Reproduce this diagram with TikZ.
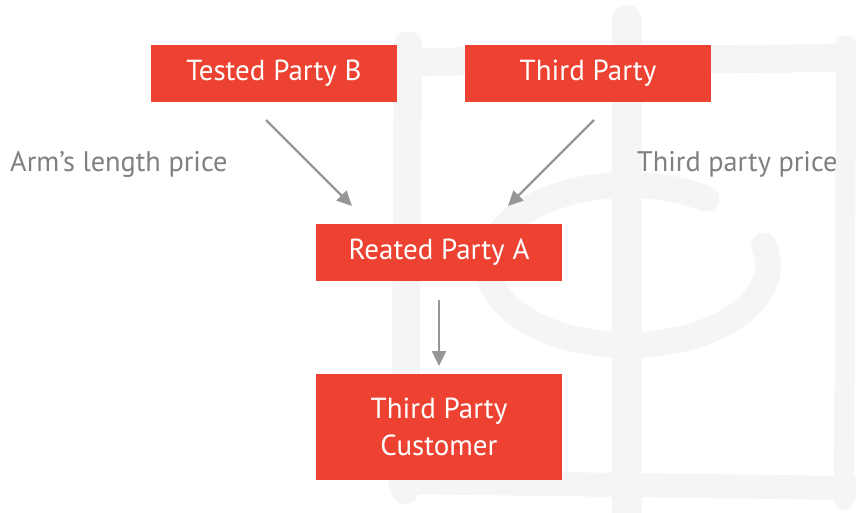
\documentclass[tikz,border=0pt]{standalone}
\usepackage{fontspec}
\setmainfont{PT Sans}
\usetikzlibrary{arrows.meta}
\definecolor{boxred}{RGB}{237,66,49}
\definecolor{arrowgrey}{RGB}{150,150,150}
\definecolor{labelgrey}{RGB}{128,128,128}
\definecolor{wmark}{RGB}{245,245,243}
\begin{document}
\begin{tikzpicture}[x=1pt,y=-1pt,
  redbox/.style={fill=boxred,text=white,inner sep=0pt,minimum width=246pt,font=\fontsize{29}{37}\selectfont,align=center},
  conn/.style={draw=arrowgrey,line width=2.4pt,-{Triangle[length=15pt,width=14pt]}},
  pricelabel/.style={text=labelgrey,font=\fontsize{28.3}{30}\selectfont,inner sep=0pt,anchor=base west},
  brush/.style={draw=wmark,line cap=round}]
\useasboundingbox (0,0) rectangle (856,512);
% watermark
\draw[brush,line width=28pt] (408,45) -- (405,490);
\draw[brush,line width=28pt] (400,62) -- (848,58);
\draw[brush,line width=20pt] (846,45) -- (844,500);
\draw[brush,line width=24pt] (400,482) -- (850,488);
\draw[brush,line width=30pt] (627,20) -- (627,512);
\draw[brush,line width=26pt] (628,265) ++(56:140 and -80) arc[start angle=56,end angle=374,x radius=140,y radius=-80];
% boxes
\node[redbox,minimum height=57pt] (tpb) at (274,73.5) {Tested Party B};
\node[redbox,minimum height=57pt] (tp) at (588,73.5) {Third Party};
\node[redbox,minimum height=57pt] (rpa) at (439,252.5) {Reated Party A};
\node[redbox,minimum height=106pt] (tpc) at (439,427) {Third Party\\Customer};
% connectors
\coordinate (s1) at (266,120);
\coordinate (e1) at (352,206);
\coordinate (s2) at (594,120);
\coordinate (e2) at (508,206);
\coordinate (s3) at (439,300);
\coordinate (e3) at (439,366);
\draw[conn] (s1) -- (e1);
\draw[conn] (s2) -- (e2);
\draw[conn] (s3) -- (e3);
% labels
\node[pricelabel] (alp) at (10,171) {Arm’s length price};
\node[pricelabel] (tpp) at (637,171) {Third party price};
\end{tikzpicture}
\end{document}
